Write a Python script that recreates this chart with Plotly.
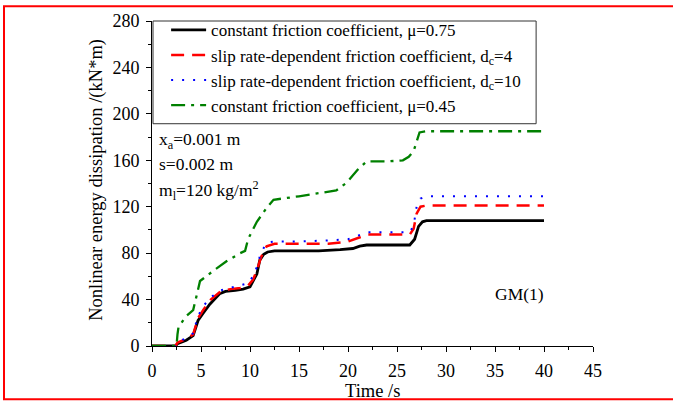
import plotly.graph_objects as go

# Cumulative nonlinear energy dissipation histories (kN*m) versus time (s)
t_mu075 = [0, 2.4, 2.6, 3.5, 4.2, 4.7, 5.2, 5.9, 6.9, 7.5, 8.5, 9.3, 10.0, 10.3, 10.7,
           11.0, 11.4, 11.8, 12.5, 15, 17, 19.2, 20.5, 21.2, 21.9, 24, 26.3, 26.8,
           27.2, 27.6, 28, 40]
e_mu075 = [0, 0, 2, 5, 9, 22, 28, 36, 45, 47, 48, 49, 51, 56, 62,
           74, 79, 81, 82, 82, 82, 83, 84, 86, 87, 87, 87, 92,
           103, 107, 108, 108]

t_dc4 = [0, 2.4, 2.6, 3.5, 4.2, 4.7, 5.3, 6, 7, 8, 9, 9.8, 10.3, 10.7, 11.1, 11.7,
         12.5, 15, 18, 20, 21.2, 22, 24, 26.3, 26.7, 27.0, 27.4, 28, 40]
e_dc4 = [0, 0, 3, 6, 10, 24, 32, 40, 47, 49, 50, 52, 57, 65, 76, 86,
         88, 88, 88, 90, 94, 96, 96, 96, 101, 114, 120, 121, 121]

t_dc10 = [0, 2.4, 2.6, 3.5, 4.2, 4.7, 5.3, 6, 7, 8, 9, 9.8, 10.3, 10.7, 11.1, 11.7,
          12.5, 15, 18, 20, 21, 22, 24, 26.3, 26.7, 27.0, 27.4, 28, 40]
e_dc10 = [0, 0, 3, 7, 11, 26, 35, 42, 48, 50, 52, 54, 60, 68, 80, 89,
          90, 90, 91, 92, 95, 98, 98, 98, 104, 120, 127, 129, 129]

t_mu045 = [0, 2.5, 2.6, 2.7, 3.4, 4.2, 4.6, 4.9, 6.3, 7.6, 9.0, 9.5, 9.8, 10.7, 11.7,
           12.4, 15, 18.8, 19.9, 21, 21.9, 24, 25.6, 26.2, 26.7, 27.3, 28, 40]
e_mu045 = [0, 0, 10, 16, 25, 31, 45, 56, 65, 73, 80, 82, 92, 107, 119,
           126, 129, 134, 141, 152, 159, 159, 160, 163, 168, 184, 185, 185]

names = [
    "constant friction coefficient, \u03bc=0.75",
    "slip rate-dependent friction coefficient, d<sub>c</sub>=4",
    "slip rate-dependent friction coefficient, d<sub>c</sub>=10",
    "constant friction coefficient, \u03bc=0.45",
]

x_ticks = [0, 5, 10, 15, 20, 25, 30, 35, 40, 45]
y_ticks = [0, 40, 80, 120, 160, 200, 240, 280]

FONT = "Liberation Serif"

fig = go.Figure()
fig.add_trace(go.Scatter(x=t_mu075, y=e_mu075, mode="lines", name=names[0],
                         line=dict(color="black", width=2.8)))
fig.add_trace(go.Scatter(x=t_dc4, y=e_dc4, mode="lines", name=names[1],
                         line=dict(color="#ff0000", width=2.5, dash="13px,8px")))
fig.add_trace(go.Scatter(x=t_dc10, y=e_dc10, mode="lines", name=names[2],
                         line=dict(color="#0000ff", width=2, dash="2px,9px")))
fig.add_trace(go.Scatter(x=t_mu045, y=e_mu045, mode="lines", name=names[3],
                         line=dict(color="#008000", width=2.3, dash="14px,6px,3px,6px")))

axis_common = dict(
    showline=True, linecolor="black", linewidth=1,
    showgrid=False, zeroline=False, mirror=False,
    ticks="outside", ticklen=5, tickcolor="black", tickwidth=1,
    tickfont=dict(family=FONT, size=18, color="black"),
    ticklabelstandoff=3, automargin=False,
)

fig.update_xaxes(range=[0, 45], tickvals=x_ticks, ticktext=[str(v) for v in x_ticks],
                 minor=dict(ticks="outside", ticklen=3, tickcolor="black", dtick=2.5, tick0=0),
                 **axis_common)
fig.update_yaxes(range=[0, 280], tickvals=y_ticks, ticktext=[str(v) for v in y_ticks],
                 minor=dict(ticks="outside", ticklen=3, tickcolor="black", dtick=20, tick0=0),
                 **axis_common)

# Axis titles
fig.add_annotation(text="Time /s", xref="paper", yref="paper", x=0.499, y=-0.137,
                   xanchor="center", yanchor="middle", showarrow=False,
                   font=dict(family=FONT, size=18.5, color="black"))
fig.add_annotation(text="Nonlinear energy dissipation /(kN*m)", xref="paper", yref="paper",
                   x=-0.125, y=0.511, xanchor="center", yanchor="middle", textangle=-90,
                   showarrow=False, font=dict(family=FONT, size=18.5, color="black"))

ann_font = dict(family=FONT, size=17.5, color="black")
annotations = [
    dict(text="x<sub>a</sub>=0.001 m", x=0.012, y=0.632),
    dict(text="s=0.002 m", x=0.012, y=0.56),
    dict(text="m<sub>l</sub>=120 kg/m<sup>2</sup>", x=0.012, y=0.478),
    dict(text="GM(1)", x=0.773, y=0.161),
]
for a in annotations:
    fig.add_annotation(xref="paper", yref="paper", xanchor="left", yanchor="middle",
                       showarrow=False, font=ann_font, **a)

# Legend frame (legend itself is drawn borderless on top of it)
fig.add_shape(type="rect", xref="paper", yref="paper",
              x0=0.0023, x1=0.871, y0=0.6839, y1=1.0,
              line=dict(color="#333333", width=1), fillcolor="white", layer="above")

# Red frame around the whole figure
fig.add_shape(type="rect", xref="paper", yref="paper",
              x0=-0.3356, x1=1.185, y0=-0.164, y1=1.0456,
              line=dict(color="#ff0000", width=2), layer="above")

fig.update_layout(
    width=673, height=403,
    margin=dict(l=152, r=80, t=17, b=57),
    paper_bgcolor="white", plot_bgcolor="white",
    font=dict(family=FONT, color="black"),
    legend=dict(x=0.032, y=1.027, xanchor="left", yanchor="top",
                bgcolor="rgba(0,0,0,0)", borderwidth=0,
                font=dict(family=FONT, size=17, color="black"),
                tracegroupgap=0, itemwidth=35),
    showlegend=True,
)

fig.write_html("out.html")
